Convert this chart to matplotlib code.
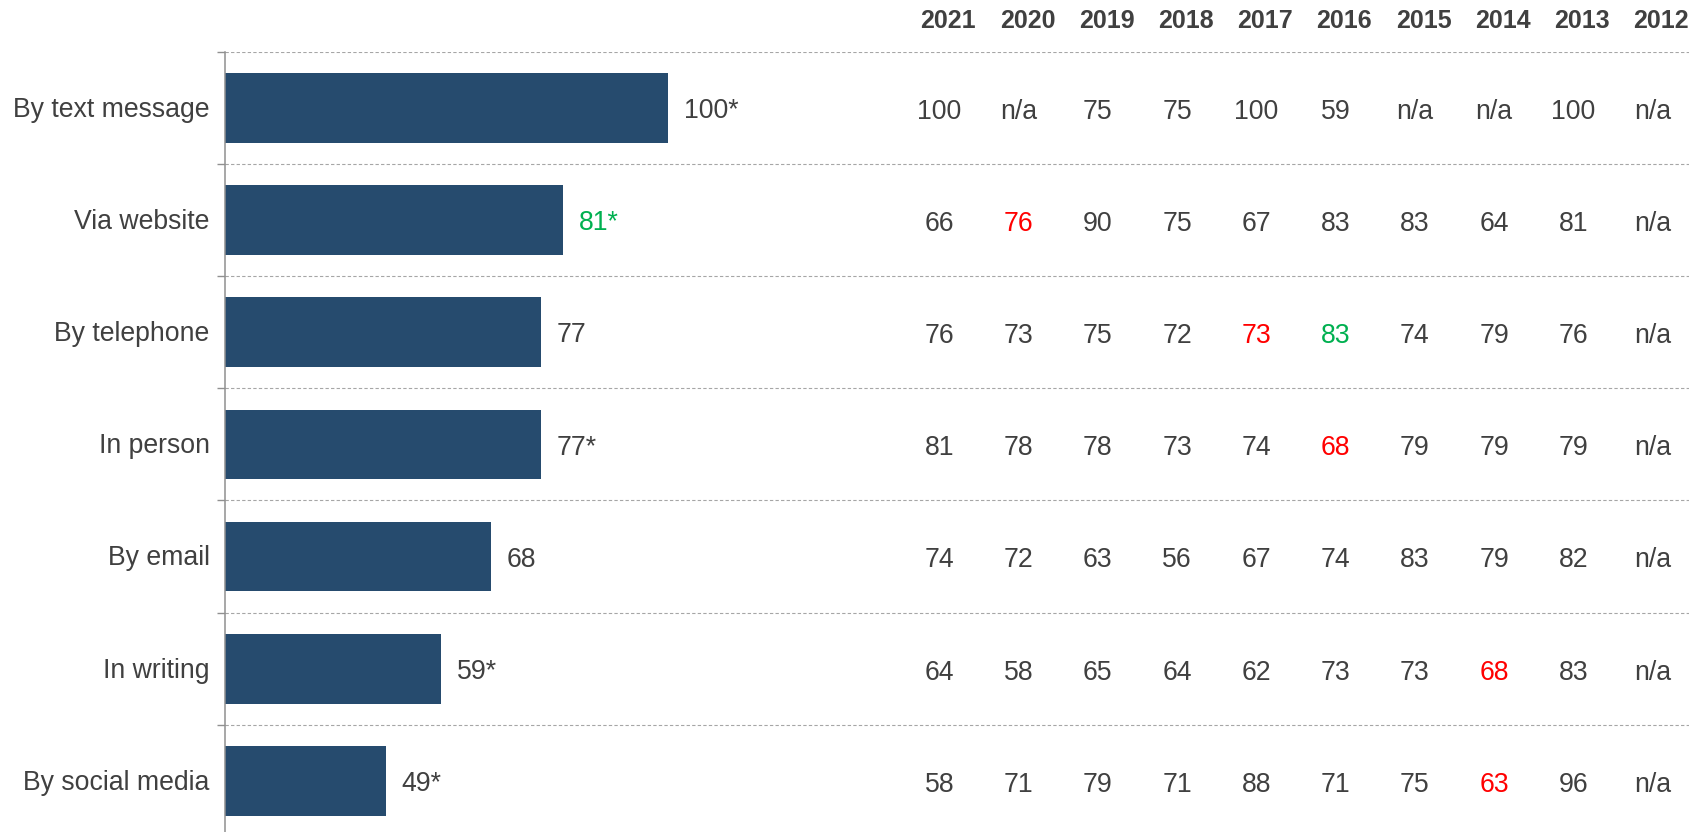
import matplotlib.pyplot as plt
from matplotlib import transforms
import numpy as np

plt.rcParams['font.family'] = ['Liberation Sans', 'DejaVu Sans']

# Current year score per contact channel
channels = ["By text message", "Via website", "By telephone", "In person",
            "By email", "In writing", "By social media"]
scores = [100, 81, 77, 77, 68, 59, 49]
score_labels = ["100*", "81*", "77", "77*", "68", "59*", "49*"]
score_colors = ["#404040", "#00B050", "#404040", "#404040", "#404040", "#404040", "#404040"]

# History table
years = ["2021", "2020", "2019", "2018", "2017", "2016", "2015", "2014", "2013", "2012"]
history = [
    ["100", "n/a", "75", "75", "100", "59", "n/a", "n/a", "100", "n/a"],
    ["66", "76", "90", "75", "67", "83", "83", "64", "81", "n/a"],
    ["76", "73", "75", "72", "73", "83", "74", "79", "76", "n/a"],
    ["81", "78", "78", "73", "74", "68", "79", "79", "79", "n/a"],
    ["74", "72", "63", "56", "67", "74", "83", "79", "82", "n/a"],
    ["64", "58", "65", "64", "62", "73", "73", "68", "83", "n/a"],
    ["58", "71", "79", "71", "88", "71", "75", "63", "96", "n/a"],
]
# significant changes: (row, col) -> colour
highlights = {(1, 1): "#FF0000", (2, 4): "#FF0000", (2, 5): "#00B050",
              (3, 5): "#FF0000", (5, 7): "#FF0000", (6, 7): "#FF0000"}

txt = "#404040"
bar_color = "#264B6E"
fs = 19.2

fig = plt.figure(figsize=(17.06, 8.32), dpi=100)
ax = fig.add_axes([0.1319, -0.0061, 0.8583, 0.944])

y = np.arange(len(channels))
bars = ax.barh(y, np.array(scores) - 20, left=20, height=0.62, color=bar_color)
for b, lab, c in zip(bars, score_labels, score_colors):
    ax.annotate(lab, (b.get_x() + b.get_width(), b.get_y() + b.get_height() / 2),
                xytext=(11.5, -7.3), textcoords="offset points",
                ha="left", va="baseline", fontsize=fs, color=c)

ax.set_xlim(20, 284.4)
ax.set_ylim(len(channels) - 0.5, -0.5)

# row dividers
for yy in np.arange(-0.5, len(channels) - 0.5):
    ax.axhline(yy, color="#A6A6A6", lw=0.8, ls=(0, (3, 2)), zorder=0)

# category labels
for i, name in enumerate(channels):
    ax.annotate(name, (0, i), xycoords=("axes fraction", "data"),
                xytext=(-11, -6.3), textcoords="offset points",
                ha="right", va="baseline", fontsize=fs, color=txt)

ax.set_yticks([])
ax.set_yticks(np.arange(-0.5, len(channels) + 0.5), minor=True)
ax.tick_params(axis="y", which="minor", length=6, width=1, color="#909090", direction="out")
ax.set_xticks([])
for s in ["top", "right", "bottom"]:
    ax.spines[s].set_visible(False)
ax.spines["left"].set_color("#909090")
ax.spines["left"].set_linewidth(1.1)

# table on the right
col_x = np.linspace(0.4939, 0.9809, len(years))
for j, yr in enumerate(years):
    ax.annotate(yr, (col_x[j], -0.5), xycoords=("axes fraction", "data"),
                xytext=(0, 17), textcoords="offset points",
                ha="center", va="baseline", fontsize=18, fontweight="bold",
                color=txt, annotation_clip=False)
for i, row in enumerate(history):
    for j, v in enumerate(row):
        ax.annotate(v, (col_x[j], i), xycoords=("axes fraction", "data"),
                    xytext=(-6.3, -7.8), textcoords="offset points",
                    ha="center", va="baseline", fontsize=fs,
                    color=highlights.get((i, j), txt))

fig.savefig("out.png", dpi=100)
